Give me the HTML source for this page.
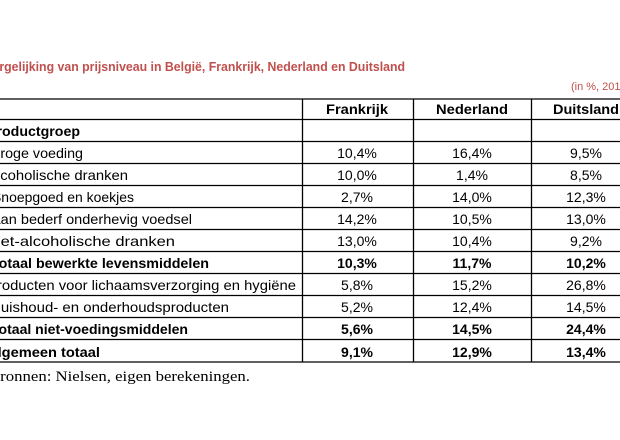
<!DOCTYPE html>
<html><head><meta charset="utf-8"><style>
html,body{margin:0;padding:0;background:#fff;width:620px;height:440px;overflow:hidden}
svg text{font-family:"Liberation Sans",sans-serif;fill:#000}
</style></head><body>
<svg width="620" height="440" xmlns="http://www.w3.org/2000/svg">
<text x="-15" y="71" font-size="13" font-weight="bold" style="fill:#c0504d" textLength="420" lengthAdjust="spacingAndGlyphs">Vergelijking van prijsniveau in België, Frankrijk, Nederland en Duitsland</text>
<text x="571" y="90" font-size="11" style="fill:#c0504d">(in %, 2013)</text>
<g stroke="#000" stroke-width="1.3">
<line x1="0" y1="99" x2="620" y2="99"/>
<line x1="0" y1="119.5" x2="620" y2="119.5"/>
<line x1="0" y1="141.5" x2="620" y2="141.5"/>
<line x1="0" y1="163.5" x2="620" y2="163.5"/>
<line x1="0" y1="185.5" x2="620" y2="185.5"/>
<line x1="0" y1="207.5" x2="620" y2="207.5"/>
<line x1="0" y1="229.5" x2="620" y2="229.5"/>
<line x1="0" y1="251.5" x2="620" y2="251.5"/>
<line x1="0" y1="273.5" x2="620" y2="273.5"/>
<line x1="0" y1="295.5" x2="620" y2="295.5"/>
<line x1="0" y1="317.5" x2="620" y2="317.5"/>
<line x1="0" y1="339.5" x2="620" y2="339.5"/>
<line x1="0" y1="362" x2="620" y2="362"/>
<line x1="302.5" y1="99" x2="302.5" y2="362"/>
<line x1="413.5" y1="99" x2="413.5" y2="362"/>
<line x1="531.5" y1="99" x2="531.5" y2="362"/>
</g>
<g font-size="14" font-weight="bold" text-anchor="middle">
<text x="357" y="114" textLength="62" lengthAdjust="spacingAndGlyphs">Frankrijk</text>
<text x="472" y="114" textLength="72" lengthAdjust="spacingAndGlyphs">Nederland</text>
<text x="586" y="114" textLength="66" lengthAdjust="spacingAndGlyphs">Duitsland</text>
</g>
<g font-size="14">
<text x="-13" y="136" font-weight="bold" textLength="93" lengthAdjust="spacingAndGlyphs">Productgroep</text>
<text x="-10" y="158" textLength="93" lengthAdjust="spacingAndGlyphs">Droge voeding</text>
<text x="-13" y="180" textLength="141" lengthAdjust="spacingAndGlyphs">Alcoholische dranken</text>
<text x="-8" y="202" textLength="142" lengthAdjust="spacingAndGlyphs">Snoepgoed en koekjes</text>
<text x="-9" y="224" textLength="201" lengthAdjust="spacingAndGlyphs">Aan bederf onderhevig voedsel</text>
<text x="-15" y="246" textLength="190" lengthAdjust="spacingAndGlyphs">Niet-alcoholische dranken</text>
<text x="-9" y="268" font-weight="bold" textLength="218" lengthAdjust="spacingAndGlyphs">Totaal bewerkte levensmiddelen</text>
<text x="-13" y="290" textLength="309" lengthAdjust="spacingAndGlyphs">Producten voor lichaamsverzorging en hygiëne</text>
<text x="-10" y="312" textLength="239" lengthAdjust="spacingAndGlyphs">Huishoud- en onderhoudsproducten</text>
<text x="-9" y="334" font-weight="bold" textLength="197" lengthAdjust="spacingAndGlyphs">Totaal niet-voedingsmiddelen</text>
<text x="-13" y="357" font-weight="bold" textLength="113" lengthAdjust="spacingAndGlyphs">Algemeen totaal</text>
</g>
<g font-size="14" text-anchor="middle">
<text x="357" y="158">10,4%</text><text x="472" y="158">16,4%</text><text x="586" y="158">9,5%</text>
<text x="357" y="180">10,0%</text><text x="472" y="180">1,4%</text><text x="586" y="180">8,5%</text>
<text x="357" y="202">2,7%</text><text x="472" y="202">14,0%</text><text x="586" y="202">12,3%</text>
<text x="357" y="224">14,2%</text><text x="472" y="224">10,5%</text><text x="586" y="224">13,0%</text>
<text x="357" y="246">13,0%</text><text x="472" y="246">10,4%</text><text x="586" y="246">9,2%</text>
<text x="357" y="268" font-weight="bold">10,3%</text><text x="472" y="268" font-weight="bold">11,7%</text><text x="586" y="268" font-weight="bold">10,2%</text>
<text x="357" y="290">5,8%</text><text x="472" y="290">15,2%</text><text x="586" y="290">26,8%</text>
<text x="357" y="312">5,2%</text><text x="472" y="312">12,4%</text><text x="586" y="312">14,5%</text>
<text x="357" y="334" font-weight="bold">5,6%</text><text x="472" y="334" font-weight="bold">14,5%</text><text x="586" y="334" font-weight="bold">24,4%</text>
<text x="357" y="357" font-weight="bold">9,1%</text><text x="472" y="357" font-weight="bold">12,9%</text><text x="586" y="357" font-weight="bold">13,4%</text>
</g>
<text x="-11" y="381" font-size="15" style="font-family:'Liberation Serif',serif" textLength="261" lengthAdjust="spacingAndGlyphs">Bronnen: Nielsen, eigen berekeningen.</text>
</svg>
</body></html>
